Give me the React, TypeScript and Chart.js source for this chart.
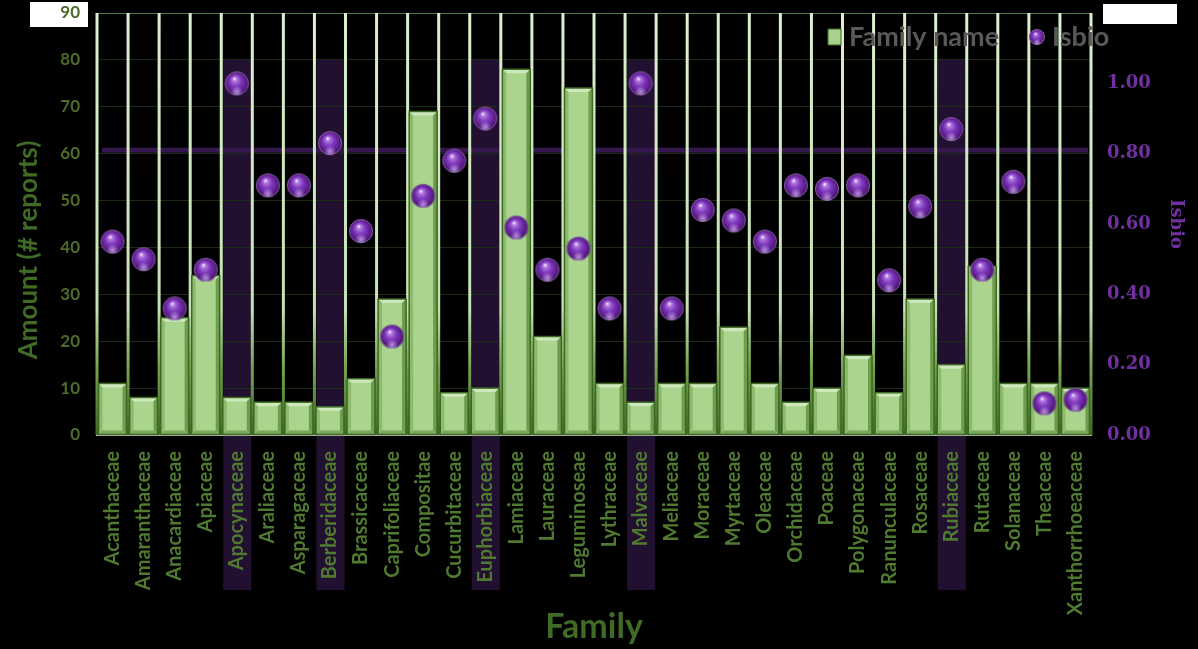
import React, { useEffect, useRef } from 'react';
import { Chart, registerables } from 'chart.js';

Chart.register(...registerables);

const families = [
  'Acanthaceae', 'Amaranthaceae', 'Anacardiaceae', 'Apiaceae', 'Apocynaceae', 'Araliaceae',
  'Asparagaceae', 'Berberidaceae', 'Brassicaceae', 'Caprifoliaceae', 'Compositae', 'Cucurbitaceae',
  'Euphorbiaceae', 'Lamiaceae', 'Lauraceae', 'Leguminoseae', 'Lythraceae', 'Malvaceae',
  'Meliaceae', 'Moraceae', 'Myrtaceae', 'Oleaceae', 'Orchidaceae', 'Poaceae',
  'Polygonaceae', 'Ranunculaceae', 'Rosaceae', 'Rubiaceae', 'Rutaceae', 'Solanaceae',
  'Theaceae', 'Xanthorrhoeaceae',
];

const reportCounts = [
  11, 8, 25, 34, 8, 7,
  7, 6, 12, 29, 69, 9,
  10, 78, 21, 74, 11, 7,
  11, 11, 23, 11, 7, 10,
  17, 9, 29, 15, 36, 11,
  11, 10,
];

const isbioValues = [
  0.55, 0.50, 0.36, 0.47, 1.00, 0.71,
  0.71, 0.83, 0.58, 0.28, 0.68, 0.78,
  0.90, 0.59, 0.47, 0.53, 0.36, 1.00,
  0.36, 0.64, 0.61, 0.55, 0.71, 0.70,
  0.71, 0.44, 0.65, 0.87, 0.47, 0.72,
  0.09, 0.10,
];

const highlightedFamilies = ['Apocynaceae', 'Berberidaceae', 'Euphorbiaceae', 'Malvaceae', 'Rubiaceae'];
const isbioThreshold = 0.81;
const highlightTopValue = 80;
const leftAxisMax = 90;
const leftAxisStep = 10;
const rightAxisMax = 1.2;
const rightAxisStep = 0.2;

const SANS = 'Lato, "Open Sans", sans-serif';
const SERIF = '"DejaVu Serif", serif';

function makeSphere(r: number): HTMLCanvasElement {
  const s = Math.ceil(r * 2 + 2);
  const c = document.createElement('canvas');
  c.width = s;
  c.height = s;
  const g = c.getContext('2d')!;
  const cx = s / 2;
  const cy = s / 2;
  g.beginPath();
  g.arc(cx, cy, r, 0, Math.PI * 2);
  const grad = g.createRadialGradient(cx - r * 0.2, cy - r * 0.4, r * 0.04, cx, cy, r);
  grad.addColorStop(0, '#f3e6ff');
  grad.addColorStop(0.14, '#b27adf');
  grad.addColorStop(0.45, '#7f38bd');
  grad.addColorStop(0.82, '#5a1c88');
  grad.addColorStop(1, '#3b0c60');
  g.fillStyle = grad;
  g.fill();
  const g2 = g.createRadialGradient(cx, cy + r * 0.72, 0, cx, cy + r * 0.72, r * 0.5);
  g2.addColorStop(0, 'rgba(225,195,255,0.7)');
  g2.addColorStop(1, 'rgba(225,195,255,0)');
  g.fillStyle = g2;
  g.beginPath();
  g.arc(cx, cy, r, 0, Math.PI * 2);
  g.fill();
  g.lineWidth = 1;
  g.strokeStyle = 'rgba(200,190,210,0.45)';
  g.beginPath();
  g.arc(cx, cy, r - 0.5, 0, Math.PI * 2);
  g.stroke();
  return c;
}

function categoryWidth(chart: any) {
  return chart.chartArea.width / families.length;
}

const backgroundPlugin = {
  id: 'bgDecor',
  beforeDraw(chart: any) {
    const { ctx, chartArea, scales } = chart;
    ctx.save();
    ctx.fillStyle = '#000000';
    ctx.fillRect(0, 0, chart.width, chart.height);
    // white boxes at top corners
    ctx.fillStyle = '#ffffff';
    ctx.fillRect(30, 2, 58, 25);
    ctx.fillRect(1103, 4, 74, 20);
    // highlighted families columns
    const xs = scales.x;
    const ys = scales.y;
    const catW = categoryWidth(chart);
    ctx.fillStyle = '#221030';
    highlightedFamilies.forEach((f) => {
      const i = families.indexOf(f);
      if (i < 0) return;
      const cx = xs.getPixelForValue(i);
      const top = ys.getPixelForValue(highlightTopValue);
      ctx.fillRect(cx - catW / 2 + 2, top, catW - 3, 590 - top);
    });
    // threshold line
    const ty = scales.y1.getPixelForValue(isbioThreshold);
    ctx.fillStyle = '#34174c';
    ctx.fillRect(chartArea.left + 5, ty - 2.5, chartArea.width - 8, 5);
    ctx.restore();
  },
  beforeDatasetsDraw(chart: any) {
    // vertical category separators
    const { ctx, chartArea, scales } = chart;
    const xs = scales.x;
    const catW = categoryWidth(chart);
    ctx.save();
    const g = ctx.createLinearGradient(0, chartArea.top, 0, chartArea.bottom);
    g.addColorStop(0, '#dcefcf');
    g.addColorStop(0.7, '#c6e1b2');
    g.addColorStop(0.84, '#76a350');
    g.addColorStop(1, '#3e6a26');
    ctx.strokeStyle = g;
    ctx.lineWidth = 3;
    for (let i = 0; i <= families.length; i++) {
      const x = i < families.length
        ? xs.getPixelForValue(i) - catW / 2
        : xs.getPixelForValue(families.length - 1) + catW / 2;
      ctx.beginPath();
      ctx.moveTo(x, chartArea.top);
      ctx.lineTo(x, chartArea.bottom);
      ctx.stroke();
    }
    ctx.restore();
  },
};

const bevelPlugin = {
  id: 'bevel',
  afterDatasetDraw(chart: any, args: any) {
    if (args.meta.type !== 'bar') return;
    const { ctx } = chart;
    const b = 4;
    ctx.save();
    args.meta.data.forEach((el: any) => {
      const L = el.x - el.width / 2;
      const R = el.x + el.width / 2;
      const T = Math.min(el.y, el.base);
      const B = Math.max(el.y, el.base);
      const poly = (pts: number[][], col: string) => {
        ctx.beginPath();
        ctx.moveTo(pts[0][0], pts[0][1]);
        for (let k = 1; k < pts.length; k++) ctx.lineTo(pts[k][0], pts[k][1]);
        ctx.closePath();
        ctx.fillStyle = col;
        ctx.fill();
      };
      poly([[L, T], [R, T], [R - b, T + b], [L + b, T + b]], '#cde8bb');
      poly([[L, T], [L + b, T + b], [L + b, B - b], [L, B]], '#8dba6d');
      poly([[R, T], [R, B], [R - b, B - b], [R - b, T + b]], '#6e9d4e');
      poly([[L, B], [R, B], [R - b, B - b], [L + b, B - b]], '#7aa85a');
      ctx.lineWidth = 1.5;
      ctx.strokeStyle = '#3d6924';
      ctx.strokeRect(L, T, R - L, B - T);
    });
    ctx.restore();
  },
};

const titlesAndLegendPlugin = {
  id: 'titlesLegend',
  afterDraw(chart: any) {
    const { ctx } = chart;
    const sphere = chart.$legendSphere as HTMLCanvasElement;
    ctx.save();
    // left axis title
    ctx.translate(29, 250);
    ctx.rotate(-Math.PI / 2);
    ctx.fillStyle = '#3f6b25';
    ctx.font = `bold 26px ${SANS}`;
    ctx.textAlign = 'center';
    ctx.textBaseline = 'middle';
    ctx.fillText('Amount (# reports)', 0, 0);
    ctx.restore();

    ctx.save();
    // legend
    ctx.fillStyle = '#a9d18e';
    ctx.fillRect(828, 29, 13, 16);
    ctx.strokeStyle = '#3d6924';
    ctx.lineWidth = 1;
    ctx.strokeRect(828, 29, 13, 16);
    ctx.fillStyle = '#595959';
    ctx.font = `bold 27px ${SANS}`;
    ctx.textBaseline = 'middle';
    ctx.textAlign = 'left';
    ctx.fillText('Family name', 849, 37);
    if (sphere) ctx.drawImage(sphere, 1028, 28);
    ctx.fillText('Isbio', 1052, 37);
    ctx.restore();
  },
};

export default function App() {
  const canvasRef = useRef<HTMLCanvasElement | null>(null);

  useEffect(() => {
    if (!canvasRef.current) return;
    const sphere = makeSphere(12);
    const legendSphere = makeSphere(8);

    const chart = new Chart(canvasRef.current, {
      type: 'bar',
      data: {
        labels: families,
        datasets: [
          {
            type: 'line',
            label: 'Isbio',
            data: isbioValues,
            yAxisID: 'y1',
            showLine: false,
            pointStyle: sphere as any,
            pointRadius: 12,
            order: 0,
          } as any,
          {
            type: 'bar',
            label: 'Family name',
            data: reportCounts,
            yAxisID: 'y',
            backgroundColor: '#abd48f',
            borderWidth: 0,
            barPercentage: 0.9,
            categoryPercentage: 1,
            order: 1,
          },
        ],
      },
      options: {
        animation: false,
        responsive: true,
        maintainAspectRatio: false,
        layout: { padding: { top: 12, left: 0, right: 0, bottom: 0 } },
        plugins: {
          legend: { display: false },
          tooltip: { enabled: false },
        },
        scales: {
          x: {
            offset: true,
            afterFit: (s: any) => { s.height = 214; s.paddingLeft = 0; s.paddingRight = 0; },
            grid: { display: false, drawTicks: false },
            border: { display: true, color: '#bfbfbf', width: 2 },
            ticks: {
              autoSkip: false,
              minRotation: 90,
              maxRotation: 90,
              padding: 16,
              color: '#4f7a2f',
              font: { family: SANS, size: 20, weight: 'bold' },
            },
            title: {
              display: true,
              text: 'Family',
              color: '#3f6b25',
              font: { family: SANS, size: 34, weight: 'bold' },
              padding: { top: 0, bottom: 2 },
            },
          },
          y: {
            position: 'left',
            min: 0,
            max: leftAxisMax,
            afterFit: (s: any) => { s.width = 97; s.paddingTop = 0; s.paddingBottom = 0; },
            ticks: {
              stepSize: leftAxisStep,
              padding: 17,
              color: '#4f6b2a',
              font: { family: SANS, size: 17, weight: 'bold' },
            },
            grid: {
              drawTicks: false,
              lineWidth: 1,
              color: (ctx: any) => (ctx.tick && ctx.tick.value === leftAxisMax ? '#47743a' : '#1b2b14'),
            },
            border: { display: false },
            title: { display: false },
          },
          y1: {
            position: 'right',
            min: 0,
            max: rightAxisMax,
            afterFit: (s: any) => { s.width = 107; s.paddingTop = 0; s.paddingBottom = 0; },
            grid: { display: false, drawTicks: false },
            border: { display: false },
            ticks: {
              stepSize: rightAxisStep,
              padding: 16,
              color: '#7030a0',
              font: { family: SERIF, size: 18, weight: 'bold' },
              callback: (v: any) => (Math.abs(Number(v) - rightAxisMax) < 1e-6 ? '' : Number(v).toFixed(2)),
            },
            title: {
              display: true,
              text: 'Isbio',
              color: '#7030a0',
              font: { family: SERIF, size: 18, weight: 'bold' },
              padding: { top: 12, bottom: 0 },
            },
          },
        },
      } as any,
      plugins: [backgroundPlugin, bevelPlugin, titlesAndLegendPlugin],
    });
    (chart as any).$legendSphere = legendSphere;
    chart.draw();

    return () => chart.destroy();
  }, []);

  return (
    <div style={{ position: 'fixed', left: 0, top: 0, width: 1198, height: 649, background: '#000' }}>
      <canvas ref={canvasRef} />
    </div>
  );
}
